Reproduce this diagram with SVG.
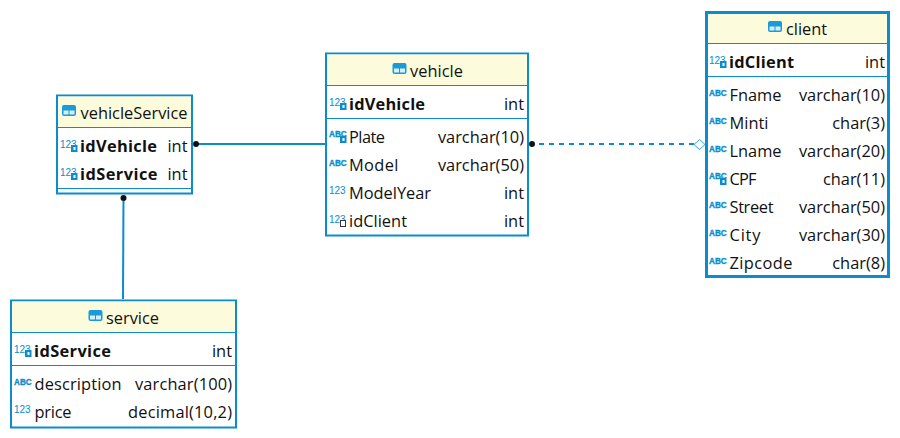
<svg xmlns="http://www.w3.org/2000/svg" width="900" height="438" viewBox="0 0 900 438">
<style>
text{font-family:"Open Sans","Noto Sans","Liberation Sans",sans-serif;font-size:16.4px;fill:#111}
.b{font-weight:700}
.r{text-anchor:end}
.box{fill:#fff;stroke:#0a8ccd;stroke-width:2}
.thick{stroke-width:3}
.head{fill:#fcfcdc}
.sep{stroke:#0a8ccd;stroke-width:1;fill:none}
.ic{font-family:"Liberation Sans",sans-serif;font-size:10px;fill:#0a8ccd}
.ib{font-weight:700;font-size:8.200px;stroke:#0a8ccd;stroke-width:.3}
.key{fill:#0a8ccd}
.fk{fill:#fff;stroke:#334;stroke-width:1}
.con{stroke:#0a8ccd;stroke-width:2;fill:none}
.dash{stroke-dasharray:5 5}
</style>
<defs>
<g id="tbl"><rect x="0" y="0" width="14" height="11" rx="2" fill="#1a9ad6"/><rect x="1.500" y="5.500" width="5" height="4" fill="#d5eefa"/><rect x="7.500" y="5.500" width="5" height="4" fill="#d5eefa"/></g>
<g id="pk"><text class="ic" x="-1" y="9">123</text><rect class="key" x="10" y="6" width="6.500" height="7"/><rect x="12.500" y="8" width="2" height="3" fill="#fff"/></g>
<g id="abcpk"><text class="ic ib" x="-1" y="7">ABC</text><rect class="key" x="10" y="6" width="6.500" height="7"/><rect x="12.500" y="8" width="2" height="3" fill="#fff"/></g>
<g id="fk"><text class="ic" x="-1" y="9">123</text><rect class="fk" x="10.500" y="6.500" width="5" height="6"/></g>
<g id="abc"><text class="ic ib" x="-1" y="8">ABC</text></g>
<g id="num"><text class="ic" x="-1" y="9">123</text></g>
</defs>
<g id="connectors">
<line class="con" x1="196" y1="144" x2="325" y2="144"/>
<circle cx="196" cy="144" r="3" fill="#111"/>
<line class="con" x1="123.500" y1="198" x2="123" y2="299"/>
<circle cx="123.500" cy="198" r="3" fill="#111"/>
<line class="con dash" x1="539" y1="144" x2="694" y2="144"/>
<circle cx="532" cy="144" r="3" fill="#111"/>
<path d="M694 144.500l5.500-5 5.500 5-5.500 5z" fill="#fff" stroke="#3aa6dc"/>
</g>
<g id="vehicleService">
<rect class="box" x="57" y="95.500" width="135" height="98"/>
<rect class="head" x="58" y="96.500" width="133" height="30.500"/>
<line class="sep" x1="57" y1="127.500" x2="192" y2="127.500"/>
<line class="sep" x1="57" y1="188.500" x2="192" y2="188.500"/>
<use href="#tbl" x="62" y="105"/>
<text x="80.500" y="118.500" textLength="107">vehicleService</text>
<use href="#pk" x="61" y="139"/>
<text class="b" x="80" y="151.500" textLength="77">idVehicle</text>
<text class="r" x="187.500" y="151.500">int</text>
<use href="#pk" x="61" y="167"/>
<text class="b" x="80" y="179.500" textLength="77.500">idService</text>
<text class="r" x="187.500" y="179.500">int</text>
</g>
<g id="vehicle">
<rect class="box" x="326" y="53.500" width="202" height="182"/>
<rect class="head" x="327" y="54.500" width="200" height="31"/>
<line class="sep" x1="326" y1="85.500" x2="528" y2="85.500"/>
<line class="sep" x1="326" y1="118.500" x2="528" y2="118.500"/>
<use href="#tbl" x="392.500" y="63"/>
<text x="410" y="76.500" textLength="53">vehicle</text>
<use href="#pk" x="330" y="97"/>
<text class="b" x="349" y="109.500" textLength="76">idVehicle</text>
<text class="r" x="524" y="109.500">int</text>
<use href="#abcpk" x="330" y="130"/>
<text x="349" y="142.500" textLength="36">Plate</text>
<text class="r" x="524" y="142.500">varchar(10)</text>
<use href="#abc" x="330" y="158"/>
<text x="349" y="170.500" textLength="49.500">Model</text>
<text class="r" x="524" y="170.500">varchar(50)</text>
<use href="#num" x="330" y="185"/>
<text x="349" y="198.500" textLength="82">ModelYear</text>
<text class="r" x="524" y="198.500">int</text>
<use href="#fk" x="330" y="214"/>
<text x="349" y="226.500" textLength="58">idClient</text>
<text class="r" x="524" y="226.500">int</text>
</g>
<g id="client">
<rect class="box thick" x="706.500" y="12.500" width="182" height="264"/>
<rect class="head" x="708" y="14" width="179" height="29"/>
<line class="sep" x1="706" y1="43.500" x2="888" y2="43.500"/>
<line class="sep" x1="706" y1="76.500" x2="888" y2="76.500"/>
<use href="#tbl" x="768" y="21"/>
<text x="786" y="34.500" textLength="41">client</text>
<use href="#pk" x="710" y="55"/>
<text class="b" x="729" y="67.500" textLength="65">idClient</text>
<text class="r" x="885" y="67.500">int</text>
<use href="#abc" x="710" y="88"/>
<text x="729.500" y="100.500" textLength="52">Fname</text>
<text class="r" x="885" y="100.500">varchar(10)</text>
<use href="#abc" x="710" y="116"/>
<text x="729.500" y="128.500" textLength="39">Minti</text>
<text class="r" x="885" y="128.500">char(3)</text>
<use href="#abc" x="710" y="144"/>
<text x="729.500" y="156.500" textLength="52">Lname</text>
<text class="r" x="885" y="156.500">varchar(20)</text>
<use href="#abcpk" x="710" y="172"/>
<text x="729.500" y="184.500" textLength="27">CPF</text>
<text class="r" x="885" y="184.500">char(11)</text>
<use href="#abc" x="710" y="200"/>
<text x="729.500" y="212.500" textLength="44">Street</text>
<text class="r" x="885" y="212.500">varchar(50)</text>
<use href="#abc" x="710" y="228"/>
<text x="729.500" y="240.500" textLength="31">City</text>
<text class="r" x="885" y="240.500">varchar(30)</text>
<use href="#abc" x="710" y="256"/>
<text x="729.500" y="268.500" textLength="63">Zipcode</text>
<text class="r" x="885" y="268.500">char(8)</text>
</g>
<g id="service">
<rect class="box" x="11" y="300.500" width="225" height="127"/>
<rect class="head" x="12" y="301.500" width="223" height="30.500"/>
<line class="sep" x1="11" y1="332.500" x2="236" y2="332.500"/>
<line class="sep" x1="11" y1="365.500" x2="236" y2="365.500"/>
<use href="#tbl" x="88.500" y="310"/>
<text x="106" y="323.500" textLength="53">service</text>
<use href="#pk" x="15" y="344"/>
<text class="b" x="34" y="356.500" textLength="77">idService</text>
<text class="r" x="232" y="356.500">int</text>
<use href="#abc" x="15" y="377"/>
<text x="34.500" y="389.500" textLength="87">description</text>
<text class="r" x="232" y="389.500" textLength="97">varchar(100)</text>
<use href="#num" x="15" y="404"/>
<text x="34.500" y="417.500" textLength="37">price</text>
<text class="r" x="232" y="417.500" textLength="104">decimal(10,2)</text>
</g>
</svg>
